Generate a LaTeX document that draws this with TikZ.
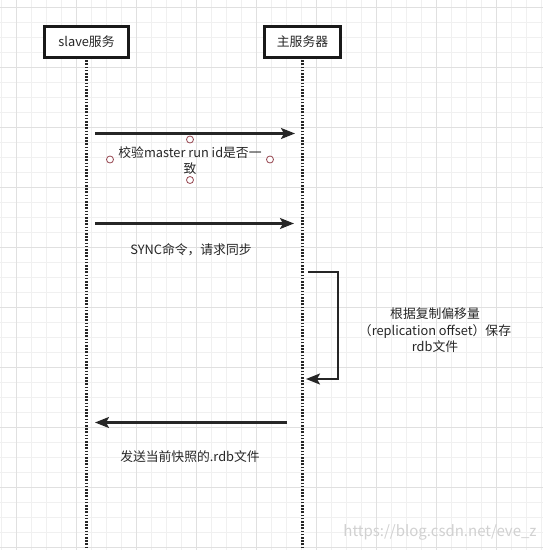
\documentclass[tikz,border=0pt]{standalone}
\usepackage{fontspec}
\setmainfont{Noto Sans CJK SC}
\usetikzlibrary{arrows.meta}

\definecolor{handlecol}{RGB}{150,70,80}

\tikzset{
  gridmin/.style={draw=black!6, line width=0.6pt},
  gridmaj/.style={draw=black!12, line width=0.8pt},
  actor/.style={draw=black!90, line width=2.2pt, fill=white, minimum height=31pt, inner sep=0pt, text=black!85},
  lifeline/.style={draw=black!85, line width=2.2pt, dash pattern=on 1.6pt off 1.6pt},
  msg/.style={draw=black!85, line width=2.2pt, -{Stealth[length=14pt,width=11pt,inset=3pt]}},
  lbl/.style={align=center, inner sep=0pt, text=black!85},
  handlept/.style={draw=handlecol, fill=white, circle, minimum size=7pt, inner sep=0pt, line width=0.8pt},
}

\begin{document}
\begin{tikzpicture}[x=1pt,y=-1pt,font=\fontsize{12.8}{16}\selectfont]

\useasboundingbox (0,0) rectangle (543,550);
\fill[white] (0,0) rectangle (543,550);

% griglia
\foreach \gx in {1.7,16.7,...,543} \draw[gridmin] (\gx,0) -- (\gx,550);
\foreach \gy in {7.5,22.5,...,550} \draw[gridmin] (0,\gy) -- (543,\gy);
\foreach \gx in {16.7,76.7,...,543} \draw[gridmaj] (\gx,0) -- (\gx,550);
\foreach \gy in {7.5,67.5,...,550} \draw[gridmaj] (0,\gy) -- (543,\gy);

% partecipanti
\coordinate (slaveend) at (86.5,550);
\coordinate (masterend) at (302.5,550);
\draw[lifeline] (86.5,57) -- (slaveend);
\draw[lifeline] (302.5,57) -- (masterend);
\node[actor, minimum width=84pt] (slave) at (86.5,42) {slave服务};
\node[actor, minimum width=76pt] (master) at (302.5,42) {主服务器};

% messaggio 1
\coordinate (m1a) at (95,133.5);
\coordinate (m1b) at (295,133.5);
\draw[msg] (m1a) -- (m1b);
\node[lbl] (check) at (190,161) {校验master run id是否一\\致};
\node[handlept] (htop) at (190,139.5) {};
\node[handlept] (hleft) at (110,159.5) {};
\node[handlept] (hright) at (270,159.5) {};
\node[handlept] (hbot) at (190,180) {};

% messaggio 2
\coordinate (m2a) at (95,223.5);
\coordinate (m2b) at (294,223.5);
\draw[msg] (m2a) -- (m2b);
\node[lbl] (sync) at (191,250) {SYNC命令，请求同步};

% messaggio su se stesso
\coordinate (s1) at (308,272);
\coordinate (s2) at (338,272);
\coordinate (s3) at (338,379);
\coordinate (s4) at (306,379);
\draw[msg] (s1) -- (s2) -- (s3) -- (s4);
\node[lbl, font=\fontsize{12.8}{16.5}\selectfont] (save) at (435,330.5)
  {根据复制偏移量\\（replication offset）保存\\rdb文件};

% messaggio 3
\coordinate (m3a) at (287,422.5);
\coordinate (m3b) at (95,422.5);
\draw[msg] (m3a) -- (m3b);
\node[lbl] (send) at (190,457) {发送当前快照的.rdb文件};

\node[text=black!18, font=\fontsize{15}{16}\selectfont, inner sep=0pt] (mark) at (440,532)
  {https://blog.csdn.net/eve\_z};

\end{tikzpicture}
\end{document}
